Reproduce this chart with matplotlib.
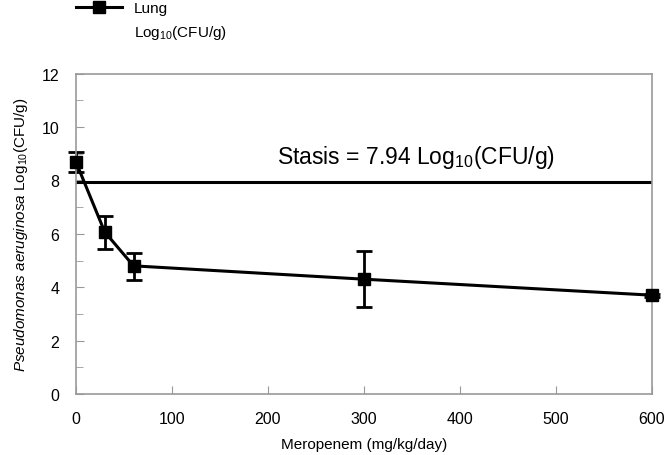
import numpy as np
import matplotlib.pyplot as plt

plt.rcParams['font.family'] = ['Liberation Sans', 'DejaVu Sans']
plt.rcParams['mathtext.fontset'] = 'custom'
plt.rcParams['mathtext.rm'] = 'Liberation Sans'
plt.rcParams['mathtext.it'] = 'Liberation Sans:italic'

# data
dose = [0, 30, 60, 300, 600]
cfu = [8.7, 6.07, 4.8, 4.3, 3.7]
err_lo = [0.38, 0.63, 0.53, 1.04, 0.05]
err_hi = [0.37, 0.60, 0.49, 1.06, 0.05]
stasis = 7.94

fig = plt.figure(figsize=(6.66, 4.56), dpi=100)
ax = fig.add_axes([0.114, 0.134, 0.865, 0.702])

ax.errorbar(dose, cfu, yerr=[err_lo, err_hi], fmt='none', ecolor='black',
            capsize=6, capthick=2, elinewidth=2, clip_on=False)
line, = ax.plot(dose, cfu, color='black', lw=2.2, marker='s', ms=8,
                clip_on=False, zorder=3)
ax.axhline(stasis, color='black', lw=2.2)
ax.text(354, 8.9, 'Stasis = %.2f Log$_{10}$(CFU/g)' % stasis, fontsize=16.5,
        ha='center', va='center')

ax.set_xlim(0, 600)
ax.set_ylim(0, 12)
ax.set_xticks(np.arange(0, 601, 100))
ax.set_yticks(np.arange(0, 13, 2))
ax.set_yticks(np.arange(1, 12, 2), minor=True)
ax.tick_params(direction='in', colors='#999999', labelcolor='black',
               labelsize=11.5, length=6, pad=12)
ax.tick_params(which='minor', direction='in', colors='#999999', length=5)
for s in ax.spines.values():
    s.set_color('#999999')
    s.set_linewidth(1.2)

ax.set_xlabel('Meropenem (mg/kg/day)', fontsize=11, labelpad=8)
ax.set_ylabel(r'$\it{Pseudomonas\ aeruginosa}$ Log$_{10}$(CFU/g)', fontsize=11,
              labelpad=8)

blank, = ax.plot([], [], alpha=0)
fig.legend(handles=[line, blank], labels=['Lung', 'Log$_{10}$(CFU/g)'],
           loc='upper left', bbox_to_anchor=(0.093, 1.025), frameon=False,
           fontsize=11, handlelength=3.0, labelspacing=0.5)

fig.savefig('out.png', dpi=100)
